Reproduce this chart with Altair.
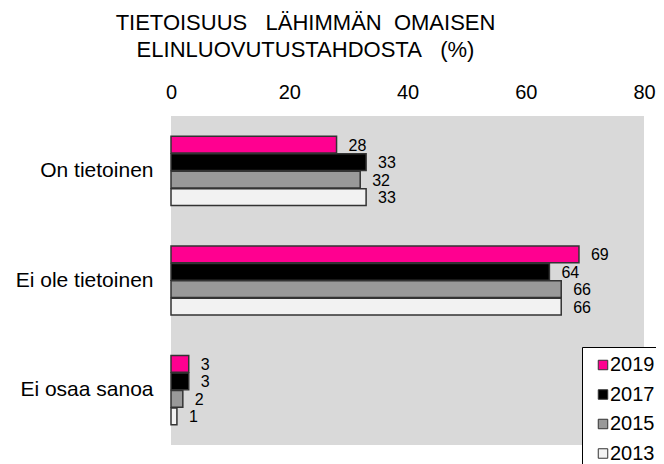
import altair as alt
import pandas as pd

categories = ["On tietoinen", "Ei ole tietoinen", "Ei osaa sanoa"]
years = ["2019", "2017", "2015", "2013"]
v2019 = [28, 69, 3]
v2017 = [33, 64, 3]
v2015 = [32, 66, 2]
v2013 = [33, 66, 1]
colors = ["#FF0090", "#000000", "#999999", "#F2F2F2"]
x_ticks = [0, 20, 40, 60, 80]
NB = "\u00a0"
title_lines = ["TIETOISUUS" + NB * 3 + "LÄHIMMÄN" + NB * 2 + "OMAISEN",
               "ELINLUOVUTUSTAHDOSTA" + NB * 3 + "(%)"]

rows = []
for yr, vals in zip(years, [v2019, v2017, v2015, v2013]):
    for c, v in zip(categories, vals):
        rows.append({"cat": c, "year": yr, "value": v})
df = pd.DataFrame(rows)

FONT = "Liberation Sans"

y_enc = alt.Y("cat:N", sort=categories, title=None,
              scale=alt.Scale(paddingInner=0.37, paddingOuter=0.185),
              axis=alt.Axis(ticks=False, tickSize=0, domain=False, labelFontSize=21,
                            labelPadding=18, labelColor="#000000", labelFont=FONT))
yoff = alt.YOffset("year:N", sort=years, scale=alt.Scale(paddingInner=0.04))

bars = alt.Chart(df).mark_bar(stroke="#333333", strokeWidth=1.5).encode(
    x=alt.X("value:Q", title=None,
            scale=alt.Scale(domain=[0, 80], nice=False),
            axis=alt.Axis(orient="top", values=x_ticks, ticks=False, tickSize=0,
                          domain=False, grid=False, labelFontSize=20, labelPadding=14,
                          labelFlush=False, labelColor="#000000", labelFont=FONT)),
    y=y_enc,
    yOffset=yoff,
    color=alt.Color("year:N", sort=years,
                    scale=alt.Scale(domain=years, range=colors),
                    legend=alt.Legend(title=None, orient="none", legendX=411, legendY=231,
                                      fillColor="#FFFFFF", strokeColor="#000000",
                                      padding=8, symbolType="square", symbolSize=90,
                                      symbolStrokeColor="#333333", symbolStrokeWidth=1,
                                      symbolOffset=3, labelOffset={"expr": "-3"},
                                      labelFontSize=20,
                                      labelFont=FONT, labelColor="#000000", rowPadding=9.5)),
)

labels = alt.Chart(df).mark_text(align="left", baseline="middle", dx=12, dy=1,
                                 fontSize=16, font=FONT, color="#000000").encode(
    x=alt.X("value:Q"),
    y=alt.Y("cat:N", sort=categories),
    yOffset=yoff,
    text=alt.Text("value:Q"),
)

chart = alt.layer(bars, labels).properties(
    width=473, height=329,
    background="#FFFFFF",
    title=alt.TitleParams(text=title_lines, anchor="middle", fontSize=22, font=FONT,
                          fontWeight="normal", color="#000000", dx=-102, dy=-16,
                          lineHeight=27.5),
    autosize=alt.AutoSizeParams(type="none"),
    padding={"left": 163, "top": 108, "right": 12, "bottom": 19},
).configure_view(fill="#D9D9D9", strokeWidth=0)

chart.save("out.html", embed_options={"renderer": "svg", "actions": False})
